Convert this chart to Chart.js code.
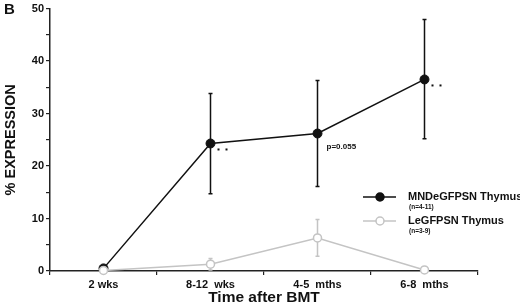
<!DOCTYPE html>
<html>
<head>
<meta charset="utf-8">
<script src="https://cdn.jsdelivr.net/npm/chart.js@4"></script>
<style>
  html, body { margin: 0; padding: 0; background: #fff; }
</style>
</head>
<body>
<canvas id="thymusChart" width="520" height="303"></canvas>
<script>
// time points after BMT
const timeLabels = ["2 wks", "8-12  wks", "4-5  mths", "6-8  mths"];

// MNDeGFPSN Thymus (n=4-11)
const mndValues = [0.5, 24.3, 26.2, 36.5];
const mndErrLow = [0.5, 14.7, 16.1, 25.2];
const mndErrHigh = [0.5, 33.8, 36.3, 47.9];

// LeGFPSN Thymus (n=3-9)
const leValues = [0.1, 1.3, 6.3, 0.2];
const leErrLow = [0.1, 0.2, 2.8, 0.2];
const leErrHigh = [0.1, 2.4, 9.8, 0.2];

const seriesNames = ["MNDeGFPSN Thymus", "LeGFPSN Thymus"];
const seriesCounts = ["(n=4-11)", "(n=3-9)"];

const FONT = "'Liberation Sans', Arial, Helvetica, sans-serif";
const GREY = "#c4c4c4";

// error bars, drawn under the points
const errorBars = {
    id: "errorBars",
    beforeDatasetsDraw(chart) {
        const ctx = chart.ctx;
        const x = chart.scales.x, y = chart.scales.y;
        const sets = [
            { lo: leErrLow, hi: leErrHigh, color: GREY },
            { lo: mndErrLow, hi: mndErrHigh, color: "#111" }
        ];
        ctx.save();
        sets.forEach(s => {
            ctx.strokeStyle = s.color;
            ctx.lineWidth = 1.5;
            s.lo.forEach((lo, i) => {
                const hi = s.hi[i];
                if (hi - lo < 0.5) return;
                const px = x.getPixelForValue(i);
                const y1 = y.getPixelForValue(lo), y2 = y.getPixelForValue(hi);
                ctx.beginPath();
                ctx.moveTo(px, y1); ctx.lineTo(px, y2);
                ctx.moveTo(px - 2, y1); ctx.lineTo(px + 2, y1);
                ctx.moveTo(px - 2, y2); ctx.lineTo(px + 2, y2);
                ctx.stroke();
            });
        });
        ctx.restore();
    }
};

// panel letter, significance marks, legend
const extras = {
    id: "extras",
    afterDraw(chart) {
        const ctx = chart.ctx;
        const x = chart.scales.x, y = chart.scales.y;
        ctx.save();
        ctx.fillStyle = "#111";
        ctx.textBaseline = "middle";
        ctx.textAlign = "left";
        ctx.font = "bold 15px " + FONT;
        ctx.fillText("B", 4, 10);

        // ".." marks next to the significant points
        [1, 3].forEach(i => {
            const px = x.getPixelForValue(i), py = y.getPixelForValue(mndValues[i]);
            ctx.fillRect(px + 7, py + 5, 2, 2);
            ctx.fillRect(px + 15, py + 5, 2, 2);
        });
        ctx.font = "bold 8px " + FONT;
        ctx.fillText("p=0.055", x.getPixelForValue(2) + 9, y.getPixelForValue(mndValues[2]) + 13);

        // legend
        chart.data.datasets.forEach((ds, k) => {
            const ly = 197 + k * 24;
            ctx.strokeStyle = ds.borderColor;
            ctx.lineWidth = 1.5;
            ctx.beginPath();
            ctx.moveTo(363, ly); ctx.lineTo(396, ly);
            ctx.stroke();
            ctx.beginPath();
            ctx.arc(380, ly, 4, 0, Math.PI * 2);
            ctx.fillStyle = ds.pointBackgroundColor;
            ctx.fill();
            ctx.strokeStyle = ds.pointBorderColor;
            ctx.stroke();
            ctx.fillStyle = "#111";
            ctx.font = "bold 11px " + FONT;
            ctx.fillText(seriesNames[k], 408, ly);
            ctx.font = "bold 6.5px " + FONT;
            ctx.fillText(seriesCounts[k], 409, ly + 10);
        });
        ctx.restore();
    }
};

const data = {
    labels: timeLabels,
    datasets: [{
        label: seriesNames[0],
        data: mndValues,
        borderColor: "#111",
        borderWidth: 1.5,
        pointBackgroundColor: "#111",
        pointBorderColor: "#111",
        pointRadius: 4.5,
        pointBorderWidth: 1,
        tension: 0,
        clip: false,
        order: 2
    }, {
        label: seriesNames[1],
        data: leValues,
        borderColor: GREY,
        borderWidth: 1.5,
        pointBackgroundColor: "#fff",
        pointBorderColor: GREY,
        pointRadius: 4,
        pointBorderWidth: 1.5,
        tension: 0,
        clip: false,
        order: 1
    }]
};

const config = {
    type: "line",
    data,
    options: {
        responsive: false,
        animation: false,
        layout: { padding: { top: 5, right: 42, left: 0, bottom: 0 } },
        plugins: {
            legend: { display: false },
            tooltip: { enabled: false }
        },
        scales: {
            x: {
                type: "category",
                offset: true,
                grid: { display: true, drawOnChartArea: false, offset: true, tickLength: 4, color: "#222", lineWidth: 1.2 },
                border: { color: "#222", width: 1.5 },
                ticks: { color: "#111", font: { family: FONT, size: 11, weight: "bold" }, padding: 3, maxRotation: 0 },
                title: { display: true, text: "Time after BMT", color: "#111", font: { family: FONT, size: 15.5, weight: "bold" }, padding: { top: 0, bottom: -4 } },
                afterFit(scale) { scale.height = 32; }
            },
            y: {
                min: 0,
                max: 50,
                grid: { display: true, drawOnChartArea: false, tickLength: 4, color: "#222", lineWidth: 1.2 },
                border: { color: "#222", width: 1.5 },
                ticks: {
                    stepSize: 5,
                    color: "#111",
                    font: { family: FONT, size: 11, weight: "bold" },
                    padding: 2,
                    callback: v => (v % 10 === 0 ? v : "")
                },
                title: { display: true, text: "% EXPRESSION", color: "#111", font: { family: FONT, size: 14.5, weight: "bold" }, padding: { top: 2, bottom: 0 } },
                afterFit(scale) { scale.width = 50; }
            }
        }
    },
    plugins: [errorBars, extras]
};

const thymusChart = new Chart(document.getElementById("thymusChart"), config);
</script>
</body>
</html>
